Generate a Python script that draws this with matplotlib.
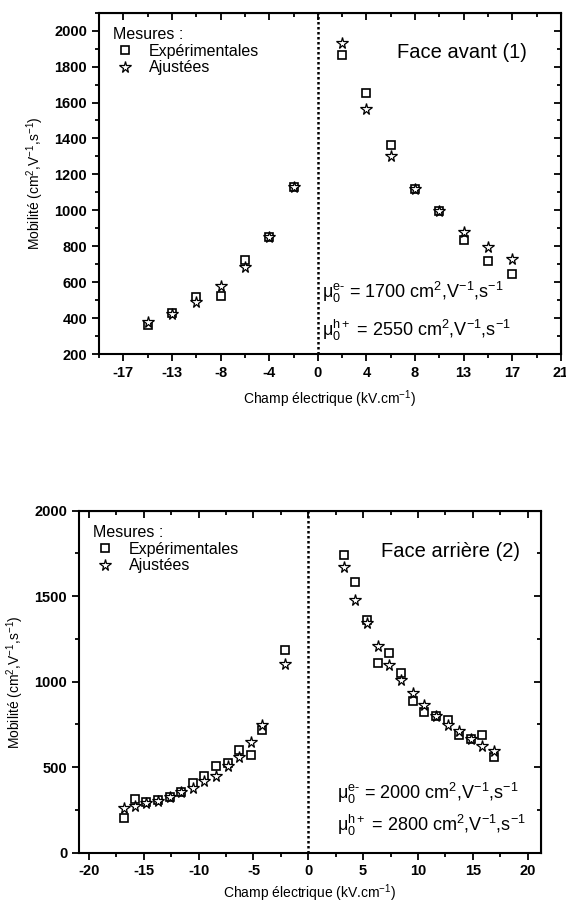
import matplotlib
matplotlib.use("Agg")
import matplotlib.pyplot as plt
from matplotlib.ticker import MultipleLocator, FuncFormatter
import numpy as np

plt.rcParams['font.family'] = ['Liberation Sans', 'DejaVu Sans']
plt.rcParams['axes.unicode_minus'] = False
plt.rcParams['mathtext.fontset'] = 'custom'
plt.rcParams['mathtext.rm'] = 'Liberation Sans'
plt.rcParams['mathtext.it'] = 'Liberation Sans:italic'

# Face avant (1)
champ1 = [-14.7, -12.6, -10.5, -8.4, -6.3, -4.2, -2.1,
          2.1, 4.2, 6.3, 8.4, 10.5, 12.6, 14.7, 16.8]
exp1 = [360, 428, 518, 522, 725, 852, 1128,
        1862, 1655, 1362, 1120, 994, 835, 718, 645]
ajust1 = [376, 423, 488, 576, 685, 852, 1128,
          1932, 1562, 1300, 1120, 994, 880, 795, 728]

# Face arrière (2)
champ2 = [-16.8, -15.8, -14.75, -13.7, -12.6, -11.6, -10.55, -9.5, -8.4, -7.35,
          -6.3, -5.25, -4.2, -2.1,
          3.25, 4.3, 5.35, 6.35, 7.4, 8.45, 9.5, 10.55, 11.6, 12.7,
          13.75, 14.8, 15.8, 16.9]
exp2 = [200, 315, 298, 310, 328, 357, 408, 450, 505, 525,
        600, 570, 720, 1185,
        1740, 1585, 1360, 1110, 1166, 1050, 890, 822, 800, 778,
        688, 662, 690, 560]
ajust2 = [260, 275, 292, 305, 328, 357, 378, 418, 450, 505,
          562, 645, 748, 1102,
          1670, 1475, 1345, 1210, 1100, 1010, 932, 866, 800, 748,
          710, 662, 625, 595]

mu_avant = [r'$\mathrm{\mu_0^{e\text{-}}}$ = 1700 cm$^\mathrm{2}$,V$^\mathrm{-1}$,s$^\mathrm{-1}$',
            r'$\mathrm{\mu_0^{h+}}$ = 2550 cm$^\mathrm{2}$,V$^\mathrm{-1}$,s$^\mathrm{-1}$']
mu_arriere = [r'$\mathrm{\mu_0^{e\text{-}}}$ = 2000 cm$^\mathrm{2}$,V$^\mathrm{-1}$,s$^\mathrm{-1}$',
              r'$\mathrm{\mu_0^{h+}}$ = 2800 cm$^\mathrm{2}$,V$^\mathrm{-1}$,s$^\mathrm{-1}$']

fig = plt.figure(figsize=(5.66, 9.07), dpi=100)
ax1 = fig.add_axes([0.175, 0.6097, 0.816, 0.3763])
ax2 = fig.add_axes([0.1396, 0.0599, 0.816, 0.377])


def style(ax):
    for s in ax.spines.values():
        s.set_linewidth(1.5)
    ax.tick_params(which='both', direction='out', width=1.3, labelsize=10.5)
    ax.tick_params(which='major', length=5)
    ax.tick_params(which='minor', length=3)
    for lab in ax.get_xticklabels() + ax.get_yticklabels():
        lab.set_fontweight('bold')
    # ticks pointing inward on the top and right spines
    top = ax.secondary_xaxis('top')
    top.set_xticks(ax.get_xticks())
    top.xaxis.set_minor_locator(ax.xaxis.get_minor_locator())
    top.tick_params(which='both', direction='in', width=1.3, labeltop=False)
    top.tick_params(which='major', length=5)
    top.tick_params(which='minor', length=3)
    right = ax.secondary_yaxis('right')
    right.set_yticks(ax.get_yticks())
    right.yaxis.set_minor_locator(ax.yaxis.get_minor_locator())
    right.tick_params(which='both', direction='in', width=1.3, labelright=False)
    right.tick_params(which='major', length=5)
    right.tick_params(which='minor', length=3)
    ax.axvline(0, color='k', ls=(0, (1, 1)), lw=1.8)
    ax.set_xlabel('Champ électrique (kV.cm$^\\mathrm{-1}$)', fontsize=10, labelpad=6)
    ax.set_ylabel('Mobilité (cm$^\\mathrm{2}$,V$^\\mathrm{-1}$,s$^\\mathrm{-1}$)', fontsize=10, labelpad=6)


def draw(ax, champ, exp, ajust):
    ax.plot(champ, exp, ls='none', marker='s', ms=6, mfc='none', mec='k', mew=1.2,
            label='Expérimentales')
    ax.plot(champ, ajust, ls='none', marker='*', ms=8.5, mfc='white', mec='k', mew=0.9,
            label='Ajustées')
    ax.legend(title='Mesures :', loc='upper left', frameon=False, fontsize=11.5,
              title_fontsize=11.5, alignment='left', handletextpad=0.7,
              labelspacing=0.1, borderaxespad=0.5, handlelength=1.5)


# top chart
draw(ax1, champ1, exp1, ajust1)
ax1.set_xlim(-18.9, 21)
ax1.set_ylim(200, 2100)
ax1.set_yticks(np.arange(200, 2001, 200))
ax1.yaxis.set_minor_locator(MultipleLocator(100))
ax1.set_xticks(np.round(np.arange(-16.8, 21.01, 4.2), 1))
ax1.xaxis.set_minor_locator(MultipleLocator(2.1))
ax1.xaxis.set_major_formatter(FuncFormatter(lambda v, p: '%d' % int(round(v))))
style(ax1)
ax1.text(0.926, 0.883, 'Face avant (1)', transform=ax1.transAxes, ha='right',
         va='center', fontsize=14.5)
ax1.text(0.482, 0.179, mu_avant[0], transform=ax1.transAxes, fontsize=13, va='center')
ax1.text(0.482, 0.070, mu_avant[1], transform=ax1.transAxes, fontsize=13, va='center')

# bottom chart
draw(ax2, champ2, exp2, ajust2)
ax2.set_xlim(-20.9, 21.2)
ax2.set_ylim(0, 2000)
ax2.set_yticks(np.arange(0, 2001, 500))
ax2.yaxis.set_minor_locator(MultipleLocator(250))
ax2.set_xticks(np.arange(-20, 21, 5))
ax2.xaxis.set_minor_locator(MultipleLocator(2.5))
style(ax2)
ax2.xaxis.labelpad = 3
ax2.text(0.955, 0.88, 'Face arrière (2)', transform=ax2.transAxes, ha='right',
         va='center', fontsize=14.5)
ax2.text(0.558, 0.174, mu_arriere[0], transform=ax2.transAxes, fontsize=13, va='center')
ax2.text(0.558, 0.081, mu_arriere[1], transform=ax2.transAxes, fontsize=13, va='center')

fig.savefig('out.png', dpi=100)
